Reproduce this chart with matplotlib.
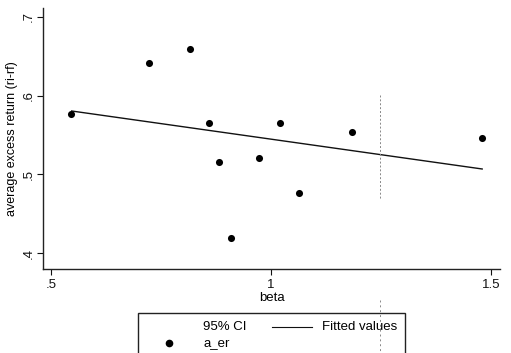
import matplotlib
matplotlib.use("Agg")
import matplotlib.pyplot as plt
import numpy as np
from matplotlib.lines import Line2D
from matplotlib.patches import Rectangle

plt.rcParams['font.family'] = ['Liberation Sans', 'DejaVu Sans']

beta = [0.545, 0.723, 0.816, 0.859, 0.882, 0.909, 0.973, 1.020, 1.064, 1.184, 1.480]
a_er = [0.577, 0.642, 0.659, 0.565, 0.516, 0.419, 0.521, 0.565, 0.476, 0.554, 0.546]
fit_x = [0.547, 1.480]
fit_y = [0.5805, 0.5068]
xticks = [0.5, 1.0, 1.5]
xticklabels = ['.5', '1', '1.5']
yticks = [0.4, 0.5, 0.6, 0.7]
yticklabels = ['.4', '.5', '.6', '.7']

W, H = 511, 353
fig = plt.figure(figsize=(W / 100, H / 100), dpi=100)
ax = fig.add_axes([43 / W, 1 - 269 / H, (500 - 43) / W, (269 - 8) / H])

ax.scatter(beta, a_er, s=26, color='black', zorder=3, linewidths=0)
ax.plot(fit_x, fit_y, color='#111111', lw=1.0)

ax.set_xlim(0.4818, 1.5205)
ax.set_ylim(0.3797, 0.7114)
ax.spines['top'].set_visible(False)
ax.spines['right'].set_visible(False)
for s in ['left', 'bottom']:
    ax.spines[s].set_linewidth(1.0)
    ax.spines[s].set_color('#222222')
ax.set_xticks(xticks)
ax.set_xticklabels(xticklabels)
ax.set_yticks(yticks)
ax.set_yticklabels(yticklabels, rotation=90, va='center')
ax.tick_params(axis='both', direction='out', length=4, width=0.8, labelsize=9.5, colors='#111111')
ax.tick_params(axis='x', pad=3)
ax.tick_params(axis='y', pad=2)
ax.set_xlabel('beta', fontsize=9.5, labelpad=1)
ax.set_ylabel('average excess return (ri-rf)', fontsize=9, labelpad=3)

# faint vertical scan mark
fig.add_artist(Line2D([380 / W, 380 / W], [1 - 95 / H, 1 - 200 / H], color='#888888',
                      lw=0.7, ls=(0, (2, 2))))
fig.add_artist(Line2D([380 / W, 380 / W], [1 - 300 / H, 0], color='#888888',
                      lw=0.7, ls=(0, (2, 3))))

# legend box
fig.add_artist(Rectangle((138 / W, -0.02), (405 - 138) / W, (353 - 313) / H + 0.02,
                         fill=False, edgecolor='#222222', lw=1.0))
fig.text(203 / W, 1 - 327 / H, '95% CI', fontsize=9.5, va='center', ha='left')
fig.text(203 / W, 1 - 343 / H, 'a_er', fontsize=9.5, va='center', ha='left')
fig.add_artist(Line2D([169 / W], [1 - 343 / H], marker='o', markersize=5.5,
                      color='black', markeredgewidth=0, ls='none'))
fig.add_artist(Line2D([272 / W, 312 / W], [1 - 327 / H, 1 - 327 / H], color='#111111', lw=0.8))
fig.text(322 / W, 1 - 327 / H, 'Fitted values', fontsize=9.5, va='center', ha='left')

fig.savefig('out.png', dpi=100)
